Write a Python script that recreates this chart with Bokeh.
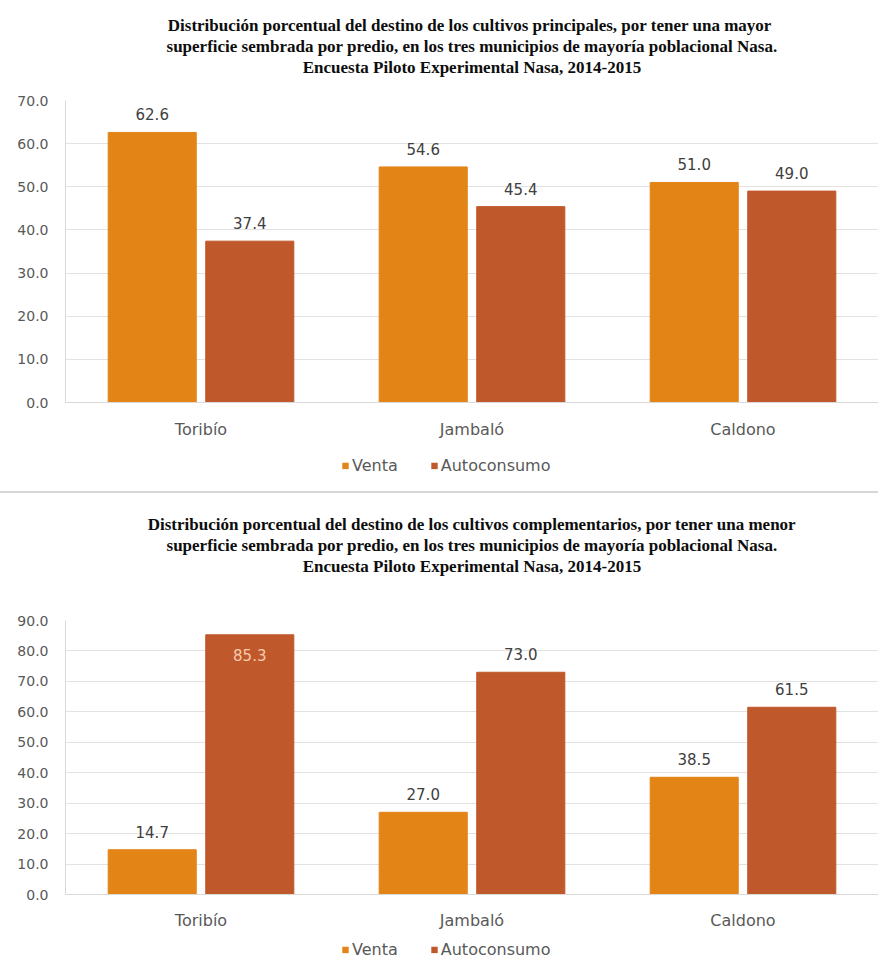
from bokeh.plotting import figure
from bokeh.models import (ColumnDataSource, FactorRange, Range1d, Legend, LegendItem,
                          Div, SingleIntervalTicker, NumeralTickFormatter, Title)
from bokeh.transform import dodge
from bokeh.layouts import column
from bokeh.embed import file_html
from bokeh.resources import INLINE
from bokeh.core.properties import value

# ---------------- data ----------------
municipios = ["Toribío", "Jambaló", "Caldono"]
series_names = ["Venta", "Autoconsumo"]

venta_principal = [62.6, 54.6, 51.0]
auto_principal = [37.4, 45.4, 49.0]

venta_complementario = [14.7, 27.0, 38.5]
auto_complementario = [85.3, 73.0, 61.5]

title_principal = [
    "Distribución porcentual del destino de los cultivos principales, por  tener una mayor",
    "superficie sembrada por predio, en los tres municipios de mayoría poblacional Nasa.",
    "Encuesta Piloto Experimental Nasa, 2014-2015",
]
title_complementario = [
    "Distribución porcentual del destino de los cultivos complementarios, por tener una menor",
    "superficie sembrada por predio, en los tres municipios de mayoría poblacional Nasa.",
    "Encuesta Piloto Experimental Nasa, 2014-2015",
]

# ---------------- style ----------------
C_VENTA = "#E38417"
C_AUTO = "#BF582B"
GRID = "#E2E2E2"
TXT = "#595959"
VAL = "#404040"
SANS = "DejaVu Sans"
SERIF = "Liberation Serif"
TITLE_SIZE = "17px"


def make_chart(title_lines, venta, auto, ymax, height, top, bottom, title_gap,
               label_standoff):
    src = ColumnDataSource(dict(m=municipios, venta=venta, auto=auto))
    p = figure(x_range=FactorRange(*municipios), y_range=Range1d(0, ymax),
               width=878, height=height, output_backend="svg", toolbar_location=None,
               min_border_left=65, min_border_right=0, min_border_top=top,
               min_border_bottom=bottom)
    p.outline_line_color = None

    # blank spacer next to the frame, then the title lines bottom-up
    p.add_layout(Title(text=" ", text_font=SERIF, text_font_size=TITLE_SIZE,
                       standoff=title_gap), "above")
    for line in reversed(title_lines):
        p.add_layout(Title(text=line, align="center", text_font=SERIF,
                           text_font_style="bold", text_font_size=TITLE_SIZE,
                           text_color="#0d0d0d", standoff=0), "above")

    p.vbar(x=dodge("m", -0.18, range=p.x_range), top="venta", width=0.325,
           source=src, color=C_VENTA)
    p.vbar(x=dodge("m", 0.18, range=p.x_range), top="auto", width=0.325,
           source=src, color=C_AUTO)

    # value labels: above the bar, or inside when there is no room above
    for vals, off in ((venta, -0.18), (auto, 0.18)):
        for inside in (False, True):
            idx = [i for i, v in enumerate(vals) if (v + 7 > ymax) == inside]
            if not idx:
                continue
            s = ColumnDataSource(dict(m=[municipios[i] for i in idx],
                                      y=[vals[i] for i in idx],
                                      t=[f"{vals[i]:.1f}" for i in idx]))
            p.text(x=dodge("m", off, range=p.x_range), y="y", text="t", source=s,
                   text_align="center",
                   text_baseline="top" if inside else "bottom",
                   y_offset=14 if inside else -12,
                   text_font=value(SANS), text_font_size="15px",
                   text_color="#F6CBAE" if inside else VAL)

    p.yaxis.ticker = SingleIntervalTicker(interval=10)
    p.yaxis.formatter = NumeralTickFormatter(format="0.0")
    p.yaxis.axis_line_color = "#D9D9D9"
    p.yaxis.major_tick_line_color = None
    p.yaxis.minor_tick_line_color = None
    p.yaxis.major_label_text_font = SANS
    p.yaxis.major_label_text_font_size = "14px"
    p.yaxis.major_label_text_color = TXT
    p.yaxis.major_label_standoff = 11

    p.xaxis.axis_line_color = "#D9D9D9"
    p.xaxis.major_tick_line_color = None
    p.xaxis.minor_tick_line_color = None
    p.xaxis.major_label_text_font = SANS
    p.xaxis.major_label_text_font_size = "16px"
    p.xaxis.major_label_text_color = TXT
    p.xaxis.major_label_standoff = label_standoff

    p.xgrid.grid_line_color = None
    p.ygrid.grid_line_color = GRID
    p.ygrid.ticker = SingleIntervalTicker(interval=10)
    return p


def make_legend(venta, auto, height, left_gap):
    # legend strip: the series renderers here have zero width and no outline,
    # only their legend swatches show
    src = ColumnDataSource(dict(m=municipios, venta=venta, auto=auto))
    lf = figure(width=878, height=height, output_backend="svg", toolbar_location=None,
                x_axis_type=None, y_axis_type=None,
                x_range=FactorRange(*municipios), y_range=Range1d(-2, -1),
                min_border_left=65, min_border_right=0,
                min_border_top=0, min_border_bottom=0)
    lf.outline_line_color = None
    rv = lf.vbar(x="m", top="venta", width=0, source=src,
                 fill_color=C_VENTA, line_color=None)
    ra = lf.vbar(x="m", top="auto", width=0, source=src,
                 fill_color=C_AUTO, line_color=None)
    legend = Legend(items=[LegendItem(label=series_names[0], renderers=[rv]),
                           LegendItem(label=series_names[1], renderers=[ra])],
                    orientation="horizontal", location="center_left",
                    label_text_font=SANS, label_text_font_size="16px",
                    label_text_color=TXT, glyph_width=8, glyph_height=8,
                    label_standoff=3, spacing=32, padding=4, margin=left_gap,
                    border_line_color=None, background_fill_alpha=0)
    lf.add_layout(legend)
    return lf


p1 = make_chart(title_principal, venta_principal, auto_principal, 70,
                height=441, top=100, bottom=39, title_gap=3, label_standoff=11)
leg1 = make_legend(venta_principal, auto_principal, 48, 276)
sep = Div(text="", width=878, height=2, margin=(2, 0, 2, 0),
          styles={"background-color": "#D6D6D6"})
p2 = make_chart(title_complementario, venta_complementario, auto_complementario, 90,
                height=437, top=125, bottom=36, title_gap=24, label_standoff=10)
leg2 = make_legend(venta_complementario, auto_complementario, 34, 276)

layout = column(p1, leg1, sep, p2, leg2, spacing=0)

open("out.html", "w").write(file_html(layout, INLINE))
